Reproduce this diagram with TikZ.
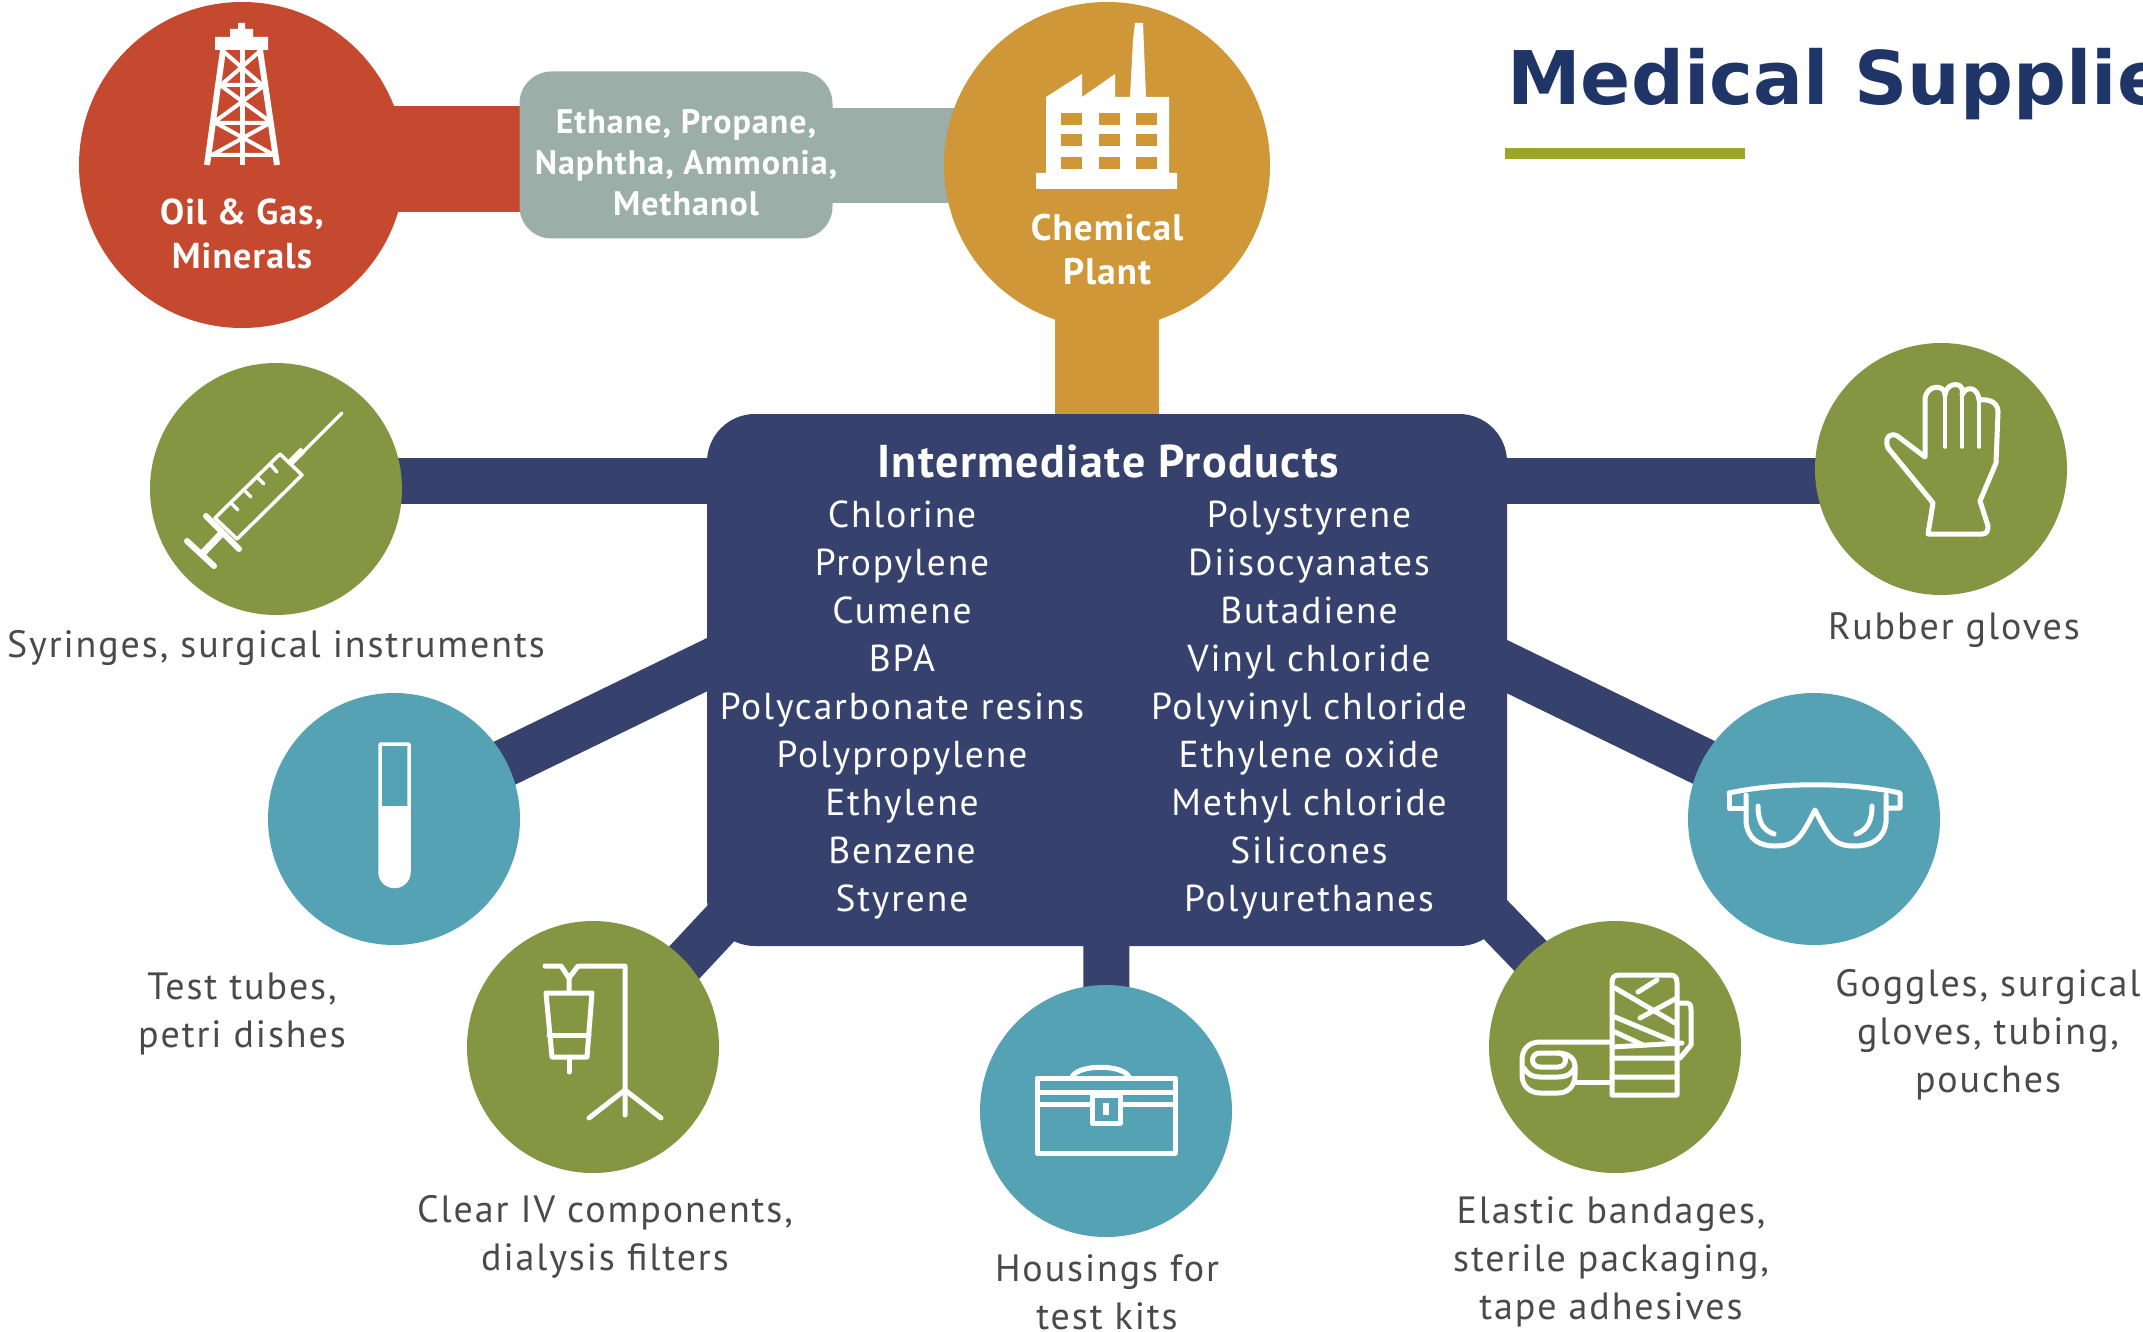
\documentclass[tikz,border=0pt]{standalone}
\usepackage{fontspec}
\usetikzlibrary{backgrounds}
\setmainfont{PT Sans}
\newfontfamily\dinfont[LetterSpace=5]{PT Sans}
\newfontfamily\dinbold[LetterSpace=3]{PT Sans}
\newfontfamily\titlefont{DejaVu Sans}
\definecolor{cred}{HTML}{C4492E}
\definecolor{corange}{HTML}{CF9737}
\definecolor{cgray}{HTML}{9BAEA8}
\definecolor{cnavy}{HTML}{36416E}
\definecolor{cgreen}{HTML}{849642}
\definecolor{cteal}{HTML}{55A2B4}
\definecolor{ctitle}{HTML}{1F3568}
\definecolor{cbar}{HTML}{9BA526}
\definecolor{ctext}{HTML}{4A4A4A}
\tikzset{
  bigcirc/.style={circle,fill=#1,minimum size=326pt,inner sep=0pt},
  smallcirc/.style={circle,fill=#1,minimum size=252pt,inner sep=0pt},
  barline/.style={line width=#1,line cap=butt},
  iconline/.style={draw=white,line width=5pt,line join=round,line cap=round},
  thinline/.style={draw=white,line width=3.5pt,line join=round,line cap=round},
  labeltext/.style={text=ctext,align=center,inner sep=0pt,font=\dinfont\fontsize{38}{48}\selectfont},
  listtext/.style={text=white,align=center,inner sep=0pt,font=\dinfont\fontsize{37.5}{48}\selectfont},
  boldwhite/.style={text=white,align=center,inner sep=0pt,font=\dinbold\bfseries\fontsize{#1}{44}\selectfont},
}
\begin{document}
\begin{tikzpicture}[x=1pt,y=-1pt]
\useasboundingbox (0,0) rectangle (2143,1332);

% hubs
\node[bigcirc=cred] (oil) at (242,165) {};
\node[bigcirc=corange] (chem) at (1107,165) {};
\node[fill=cgray,rounded corners=32pt,minimum width=313pt,minimum height=167pt,inner sep=0pt] (feed) at (676,155) {};
\node[fill=cnavy,rounded corners=48pt,minimum width=800pt,minimum height=532pt,inner sep=0pt] (hub) at (1107,680) {};
\node[smallcirc=cgreen] (syr) at (276,489) {};
\node[smallcirc=cgreen] (glove) at (1941,469) {};
\node[smallcirc=cteal] (tube) at (394,819) {};
\node[smallcirc=cteal] (gog) at (1814,819) {};
\node[smallcirc=cgreen] (iv) at (593,1047) {};
\node[smallcirc=cgreen] (band) at (1615,1047) {};
\node[smallcirc=cteal] (kit) at (1106,1111) {};

% connector end points
\coordinate (oilR) at (300,159);
\coordinate (feedL) at (560,159);
\coordinate (feedR) at (800,155.5);
\coordinate (chemL) at (1000,155.5);
\coordinate (syrR) at (300,481);
\coordinate (hubL) at (760,481);
\coordinate (gloveL) at (1900,481);
\coordinate (hubR) at (1460,481);
\coordinate (tubeE) at (470,780);
\coordinate (hubT) at (770,634);
\coordinate (gogE) at (1740,780);
\coordinate (hubG) at (1440,634);
\coordinate (ivE) at (640,1010);
\coordinate (hubI) at (780,860);
\coordinate (bandE) at (1574,1001);
\coordinate (hubB) at (1434,856);

\begin{scope}[on background layer]
  \fill[white] (0,0) rectangle (2143,1332);
  \draw[barline=106pt,cred] (oilR) -- (feedL);
  \draw[barline=95pt,cgray] (feedR) -- (chemL);
  \draw[barline=104pt,corange] (chem.center) -- (hub.center);
  \draw[barline=46pt,cnavy] (syrR) -- (hubL);
  \draw[barline=46pt,cnavy] (gloveL) -- (hubR);
  \draw[barline=48pt,cnavy] (tubeE) -- (hubT);
  \draw[barline=48pt,cnavy] (gogE) -- (hubG);
  \draw[barline=44pt,cnavy] (ivE) -- (hubI);
  \draw[barline=44pt,cnavy] (bandE) -- (hubB);
  \draw[barline=46pt,cnavy] (hub.center) -- (kit.center);
\end{scope}

% title
\begin{scope}
  \clip (1400,0) rectangle (2143,140);
  \node[anchor=base west,inner sep=0pt,text=ctitle,font=\titlefont\bfseries\fontsize{74}{80}\selectfont] (title) at (1507,105) {Medical Supplie};
\end{scope}
\fill[cbar] (1505,148) rectangle (1745,159);

% hub texts
\node[boldwhite=36] (oilT) at (242,234) {Oil \& Gas,\\Minerals};
\node[boldwhite=37] (chemT) at (1107,250) {Chemical\\Plant};
\node[text=white,align=center,inner sep=0pt,font=\dinbold\bfseries\fontsize{34}{41}\selectfont] (feedT) at (686,163) {Ethane, Propane,\\Naphtha, Ammonia,\\Methanol};
\node[text=white,inner sep=0pt,font=\dinbold\bfseries\fontsize{46}{48}\selectfont] (hubT2) at (1108,461) {Intermediate Products};
\node[listtext] (listL) at (902,710) {Chlorine\\Propylene\\Cumene\\BPA\\Polycarbonate resins\\Polypropylene\\Ethylene\\Benzene\\Styrene};
\node[listtext] (listR) at (1309,710) {Polystyrene\\Diisocyanates\\Butadiene\\Vinyl chloride\\Polyvinyl chloride\\Ethylene oxide\\Methyl chloride\\Silicones\\Polyurethanes};

% labels
\node[labeltext] (syrL) at (276,648) {Syringes, surgical instruments};
\node[labeltext] (gloveT) at (1954,630) {Rubber gloves};
\node[labeltext] (tubeT) at (242,1014) {Test tubes,\\petri dishes};
\node[labeltext] (ivT) at (605,1237) {Clear IV components,\\dialysis filters};
\node[labeltext] (kitT) at (1107,1292) {Housings for\\test kits};
\node[labeltext] (bandT) at (1611,1262) {Elastic bandages,\\sterile packaging,\\tape adhesives};
\node[labeltext] (gogT) at (1988,1035) {Goggles, surgical\\gloves, tubing,\\pouches};

% derrick icon
\fill[white] (215,37) -- (230,37) -- (230,29) -- (238,29) -- (238,23) -- (245,23) -- (245,29) -- (253,29) -- (253,37) -- (268,37) -- (268,50) -- (215,50) -- cycle;
\draw[iconline,line cap=butt,line width=6pt] (223,50) -- (207,165) (260,50) -- (277,165);
\draw[iconline,line cap=butt] (242,50) -- (242,165);
\draw[thinline,line width=4pt] (220,85) -- (265,85) (215,123) -- (270,123) (211,155) -- (275,155)
  (224,52) -- (262,85) (259,52) -- (221,85) (220,85) -- (268,120) (265,85) -- (217,120) (216,123) -- (274,155) (270,123) -- (212,155);

% factory icon
\fill[white] (1046,97) -- (1082,74) -- (1082,97) -- (1115,74) -- (1115,97) -- (1130,97) -- (1133,40) -- (1135,23) -- (1143,23) -- (1146,97) -- (1169,97) -- (1169,173) -- (1177,173) -- (1177,189) -- (1036,189) -- (1036,173) -- (1046,173) -- cycle;
\foreach \wx in {1061,1099,1136}{\foreach \wy in {113,134,157}{\fill[corange] (\wx,\wy) rectangle ++(21,12);}}

% syringe icon
\draw[thinline] (280,454) -- (302,475) -- (237,539) -- (215,518) -- cycle;
\draw[thinline] (291,464) -- (305,450) (305,450) -- (342,413);
\draw[iconline,line width=7pt,line cap=butt] (290,463) -- (303,450);
\draw[iconline,line width=6pt] (206,516) -- (239,549);
\draw[iconline,line width=7pt,line cap=butt] (222,533) -- (201,555);
\draw[iconline,line width=6pt] (187,541) -- (214,566);
\draw[thinline] (270,464) -- (277,472) (257,477) -- (264,484) (244,490) -- (251,497) (231,503) -- (238,510);

% test tube icon
\fill[white] (380,806) -- (409,806) -- (409,872) arc[start angle=0,end angle=180,radius=14.5] -- cycle;
\draw[thinline] (380,744) -- (409,744) -- (409,872) arc[start angle=0,end angle=180,radius=14.5] -- cycle;

% IV icon
\draw[iconline] (545,966) -- (561,966) -- (569,978) -- (578,966) -- (625,966) -- (625,1115);
\draw[iconline] (589,1118) -- (625,1090) -- (661,1118);
\draw[iconline] (569,978) -- (569,993) (546,993) -- (592,993) -- (587,1057) -- (552,1057) -- cycle;
\draw[iconline] (549,1035) -- (589,1035) (569,1057) -- (569,1072);

% kit icon
\draw[iconline,line cap=butt,miter limit=4] (1037,1078) rectangle (1175,1153);
\draw[iconline,line cap=butt] (1037,1092) -- (1175,1092) (1037,1104) -- (1092,1104) (1120,1104) -- (1175,1104);
\draw[iconline] (1072,1077) .. controls (1078,1064) and (1123,1064) .. (1129,1077);
\draw[iconline,line cap=butt] (1092,1095) rectangle (1120,1123);
\fill[white] (1103,1103) rectangle (1109,1115);

% glove icon
\draw[iconline] (1928,534) -- (1933,503) -- (1888,448) .. controls (1883,436) and (1893,431) .. (1900,438) -- (1925,457) -- (1925,400)
  .. controls (1925,385) and (1945,383) .. (1945,395) .. controls (1946,381) and (1966,381) .. (1962,395) .. controls (1966,385) and (1978,387) .. (1979,400)
  .. controls (1985,399) and (1998,400) .. (1998,412) -- (1996,463) -- (1980,501) -- (1988,526) .. controls (1988,532) and (1986,534) .. (1982,534) -- cycle;
\draw[thinline] (1945,395) -- (1945,447) (1962,395) -- (1962,447) (1979,400) -- (1979,447);

% goggles icon
\draw[iconline] (1729,793) .. controls (1780,782) and (1850,782) .. (1900,793) -- (1900,808) -- (1886,808);
\draw[iconline] (1729,793) -- (1729,808) -- (1746,808);
\draw[iconline] (1746,795) -- (1746,822) .. controls (1748,840) and (1760,846) .. (1775,846) .. controls (1795,846) and (1800,840) .. (1815,810) .. controls (1830,840) and (1835,846) .. (1855,846) .. controls (1870,846) and (1884,840) .. (1886,822) -- (1886,795);
\draw[iconline] (1758,806) .. controls (1758,820) and (1762,830) .. (1774,834) (1872,806) .. controls (1872,820) and (1868,830) .. (1856,834);

% bandage icon
\draw[iconline] (1612,1095) -- (1612,983) .. controls (1612,977) and (1614,975) .. (1620,975) -- (1669,975) .. controls (1675,975) and (1677,977) .. (1677,983) -- (1677,1095) -- cycle;
\draw[iconline] (1677,1003) -- (1686,1003) .. controls (1690,1003) and (1691,1005) .. (1691,1010) -- (1691,1045) -- (1680,1058);
\draw[iconline] (1612,1047) -- (1682,1043) (1612,1058) -- (1677,1058) (1612,1077) -- (1677,1077);
\draw[iconline] (1615,988) -- (1675,1023) (1615,1017) -- (1675,1042) (1615,1032) -- (1643,1045) (1677,998) -- (1640,1018) (1657,980) -- (1638,992);
\draw[iconline] (1612,1042) -- (1540,1042) .. controls (1528,1042) and (1522,1050) .. (1522,1060) -- (1522,1075) .. controls (1522,1086) and (1530,1093) .. (1540,1093) -- (1558,1093) .. controls (1568,1093) and (1575,1086) .. (1575,1075) -- (1575,1066);
\draw[iconline] (1540,1053) -- (1558,1053) .. controls (1568,1053) and (1568,1067) .. (1558,1067) -- (1540,1067) .. controls (1530,1067) and (1530,1053) .. (1540,1053) -- cycle;
\draw[iconline] (1524,1068) .. controls (1528,1075) and (1533,1077) .. (1540,1077) -- (1558,1077) .. controls (1566,1077) and (1573,1074) .. (1575,1066) .. controls (1575,1060) and (1570,1053) .. (1558,1053);
\draw[iconline] (1575,1082) -- (1612,1082);
\end{tikzpicture}
\end{document}
